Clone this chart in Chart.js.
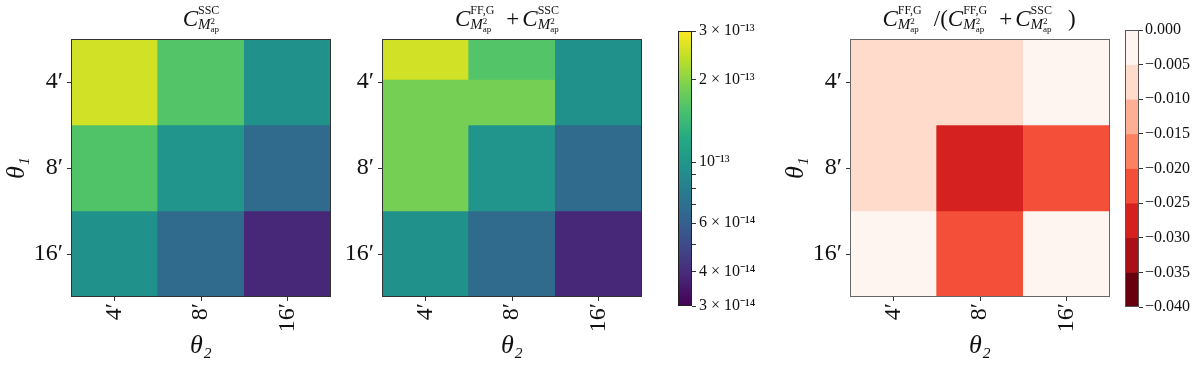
<!DOCTYPE html>
<html>
<head>
<meta charset="utf-8">
<script src="https://cdn.jsdelivr.net/npm/chart.js@4/dist/chart.umd.min.js"></script>
<style>
  body { margin: 0; background: #fff; }
  #wrap { position: relative; width: 1200px; height: 368px; overflow: hidden; }
  canvas { position: absolute; top: 0; }
  .ttl { position: absolute; top: 3px; width: 400px; text-align: center; white-space: nowrap;
         font-family: 'Liberation Serif', serif; font-size: 23px; color: #111; line-height: 30px; }
  .C { font-style: italic; }
  .scr { display: inline-flex; flex-direction: column; vertical-align: 12px; text-align: left; }
  .up { font-size: 12px; line-height: 14px; }
  .dn { font-size: 15px; line-height: 14px; white-space: nowrap; }
  .dn i { font-style: italic; }
  .scr2 { display: inline-flex; flex-direction: column; vertical-align: 5px; font-size: 9px; line-height: 8px; }
  .sl { margin-left: 12px; }
  .pl { margin-left: 12px; margin-right: 3px; }
  .cl { margin-left: 16px; }
</style>
</head>
<body>
<div id="wrap">
  <canvas id="hm1" width="345" height="368" style="left:0px"></canvas>
  <canvas id="hm2" width="345" height="368" style="left:311px"></canvas>
  <canvas id="cb1" width="100" height="368" style="left:678px"></canvas>
  <canvas id="hm3" width="345" height="368" style="left:779px"></canvas>
  <canvas id="cb3" width="75" height="368" style="left:1125px"></canvas>
  <div class="ttl" id="t1" style="left:1px"></div>
  <div class="ttl" id="t2" style="left:307px"></div>
  <div class="ttl" id="t3" style="left:779px"></div>
</div>
<script>
// ---- donnees ----
const rowLabels = ['4′', '8′', '16′'];   // theta_1 (lignes, de haut en bas)
const colLabels = ['4′', '8′', '16′'];   // theta_2 (colonnes)

// C_SSC
const sscRow4 = [2.55e-13, 1.60e-13, 9.5e-14];
const sscRow8 = [1.58e-13, 9.9e-14, 6.7e-14];
const sscRow16 = [9.5e-14, 6.6e-14, 3.86e-14];

// C_FF,G + C_SSC
const sumRow4 = [1.85e-13, 1.85e-13, 9.5e-14];
const sumRow8 = [1.85e-13, 9.9e-14, 6.7e-14];
const sumRow16 = [9.5e-14, 6.6e-14, 3.86e-14];
const sumTopStrip = [2.55e-13, 1.60e-13, 9.5e-14];  // bande du haut visible sur la 1re ligne

// C_FF,G / (C_FF,G + C_SSC)
const ratioRow4 = [-0.007, -0.007, -0.002];
const ratioRow8 = [-0.007, -0.027, -0.022];
const ratioRow16 = [-0.001, -0.022, -0.001];

// barres de couleur
const logTicks = [3e-14, 4e-14, 5e-14, 6e-14, 7e-14, 8e-14, 9e-14, 1e-13, 2e-13, 3e-13];
const logTickLabels = ['3 × 10⁻¹⁴', '4 × 10⁻¹⁴', '', '6 × 10⁻¹⁴', '', '', '', '10⁻¹³', '2 × 10⁻¹³', '3 × 10⁻¹³'];
const ratioLevels = [0, -0.005, -0.010, -0.015, -0.020, -0.025, -0.030, -0.035, -0.040];

const stripDepth = 0.47;   // hauteur de la bande (en fraction de ligne)
const SERIF = "'Liberation Serif', serif";

// ---- palettes ----
const viridisStops = ['#440154', '#482475', '#414487', '#355f8d', '#2a788e', '#21918c',
                      '#22a884', '#44bf70', '#7ad151', '#bddf26', '#fde725'];
const redsStops = ['#fff5f0', '#fee0d2', '#fcbba1', '#fc9272', '#fb6a4a', '#ef3b2c', '#cb181d', '#a50f15', '#67000d'];

function hexToRgb(h) { return [1, 3, 5].map(i => parseInt(h.slice(i, i + 2), 16)); }
function sample(stops, t) {
  t = Math.min(1, Math.max(0, t));
  const f = t * (stops.length - 1), i = Math.min(stops.length - 2, Math.floor(f)), u = f - i;
  const a = hexToRgb(stops[i]), b = hexToRgb(stops[i + 1]);
  return 'rgb(' + a.map((v, k) => Math.round(v + (b[k] - v) * u)).join(',') + ')';
}
const logMin = 3e-14, logMax = 3e-13;
function viridisColor(v) { return sample(viridisStops, Math.log10(v / logMin) / Math.log10(logMax / logMin)); }
const nBins = ratioLevels.length - 1;
function binColor(i) { return sample(redsStops, i / (nBins - 1)); }
function ratioColor(v) {
  const i = Math.floor(-v / 0.005);
  return binColor(Math.max(0, Math.min(nBins - 1, i)));
}

// ---- cadre autour de la zone de trace ----
const framePlugin = {
  id: 'frame',
  afterDraw(chart, args, o) {
    const { ctx, chartArea: a } = chart;
    ctx.save();
    ctx.strokeStyle = o.color || '#333';
    ctx.lineWidth = 1;
    ctx.strokeRect(a.left + 0.5, a.top + 0.5, a.width - 1, a.height - 1);
    ctx.restore();
  }
};

// Creer une carte de chaleur 3x3 (barres flottantes)
function createHeatmap(canvasId, rows, colorFn, opts) {
  const datasets = rows.map((vals, r) => ({
    data: colLabels.map(() => [r, r + 1]),
    backgroundColor: vals.map(colorFn),
    grouped: false, barPercentage: 1, categoryPercentage: 1, borderWidth: 0
  }));
  // le premier jeu est dessine en dernier : la bande passe au-dessus
  if (opts.strip) {
    datasets.unshift({
      data: colLabels.map(() => [0, stripDepth]),
      backgroundColor: opts.strip.map(colorFn),
      grouped: false, barPercentage: 1, categoryPercentage: 1, borderWidth: 0
    });
  }
  return new Chart(document.getElementById(canvasId), {
    type: 'bar',
    data: { labels: colLabels, datasets },
    plugins: [framePlugin],
    options: {
      responsive: false, animation: false, devicePixelRatio: 1,
      layout: { padding: { left: 0, right: 14, top: 39, bottom: 0 } },
      plugins: { legend: { display: false }, tooltip: { enabled: false }, frame: { color: opts.frame } },
      scales: {
        x: {
          type: 'category', offset: true,
          grid: { offset: false, drawOnChartArea: false, tickLength: 4, color: '#333' },
          border: { display: false },
          ticks: { autoSkip: false, minRotation: 90, maxRotation: 90, padding: 2, color: '#111',
                   font: { family: SERIF, size: 24 } },
          title: { display: true, text: 'θ₂', color: '#111', padding: { top: 0, bottom: 6 },
                   font: { family: SERIF, size: 26, style: 'italic' } },
          afterFit: s => { s.height = 71; }
        },
        y: {
          type: 'linear', min: 0, max: 3, reverse: true,
          afterBuildTicks: s => { s.ticks = rowLabels.map((_, i) => ({ value: i + 0.5 })); },
          grid: { drawOnChartArea: false, tickLength: 4, color: '#333' },
          border: { display: false },
          ticks: { autoSkip: false, padding: 4, color: '#111', font: { family: SERIF, size: 24 },
                   callback: (v, i) => rowLabels[i] },
          title: { display: opts.yTitle, text: 'θ₁', color: '#111', padding: { top: 2, bottom: 0 },
                   font: { family: SERIF, size: 26, style: 'italic' } },
          afterFit: s => { s.width = 71; }
        }
      }
    }
  });
}

createHeatmap('hm1', [sscRow4, sscRow8, sscRow16], viridisColor, { yTitle: true, frame: '#333' });
createHeatmap('hm2', [sumRow4, sumRow8, sumRow16], viridisColor, { yTitle: false, frame: '#333', strip: sumTopStrip });
createHeatmap('hm3', [ratioRow4, ratioRow8, ratioRow16], ratioColor, { yTitle: true, frame: '#666' });

// Barre de couleur log (viridis)
new Chart(document.getElementById('cb1'), {
  type: 'bar',
  data: { labels: [''], datasets: [{
    data: [[logMin, logMax]], barPercentage: 1, categoryPercentage: 1, borderWidth: 0,
    backgroundColor: c => {
      const a = c.chart.chartArea;
      if (!a) return viridisStops[5];
      const g = c.chart.ctx.createLinearGradient(0, a.bottom, 0, a.top);
      viridisStops.forEach((col, i) => g.addColorStop(i / (viridisStops.length - 1), col));
      return g;
    }
  }] },
  plugins: [framePlugin],
  options: {
    responsive: false, animation: false, devicePixelRatio: 1,
    layout: { padding: { left: 0, right: 0, top: 31, bottom: 62 } },
    plugins: { legend: { display: false }, tooltip: { enabled: false }, frame: { color: '#222' } },
    scales: {
      x: { display: false },
      y: {
        type: 'logarithmic', position: 'right', min: logMin, max: logMax,
        afterBuildTicks: s => { s.ticks = logTicks.map(v => ({ value: v })); },
        grid: { drawOnChartArea: false, tickLength: 4, color: '#333' },
        border: { display: false },
        ticks: { autoSkip: false, padding: 3, color: '#111', font: { family: SERIF, size: 16 },
                 callback: (v, i) => logTickLabels[i] },
        afterFit: s => { s.width = 86; }
      }
    }
  }
});

// Barre de couleur discrete (Reds)
new Chart(document.getElementById('cb3'), {
  type: 'bar',
  data: { labels: [''], datasets: ratioLevels.slice(0, -1).map((lv, i) => ({
    data: [[ratioLevels[i + 1], lv]], backgroundColor: binColor(i),
    grouped: false, barPercentage: 1, categoryPercentage: 1, borderWidth: 0
  })) },
  plugins: [framePlugin],
  options: {
    responsive: false, animation: false, devicePixelRatio: 1,
    layout: { padding: { left: 0, right: 0, top: 30, bottom: 61 } },
    plugins: { legend: { display: false }, tooltip: { enabled: false }, frame: { color: '#555' } },
    scales: {
      x: { display: false },
      y: {
        type: 'linear', position: 'right', min: ratioLevels[ratioLevels.length - 1], max: 0,
        afterBuildTicks: s => { s.ticks = ratioLevels.map(v => ({ value: v })); },
        grid: { drawOnChartArea: false, tickLength: 4, color: '#333' },
        border: { display: false },
        ticks: { autoSkip: false, padding: 2, color: '#111', font: { family: SERIF, size: 16 },
                 callback: (v, i) => (ratioLevels[i] < 0 ? '−' : '') + Math.abs(ratioLevels[i]).toFixed(3) },
        afterFit: s => { s.width = 61; }
      }
    }
  }
});

// ---- titres (notation C^{X}_{M^2_ap}) ----
function cTerm(sup) {
  return '<span class="C">C</span><span class="scr"><span class="up">' + sup + '</span>' +
    '<span class="dn"><i>M</i><span class="scr2"><span>2</span><span>ap</span></span></span></span>';
}
document.getElementById('t1').innerHTML = cTerm('SSC');
document.getElementById('t2').innerHTML = cTerm('FF,G') + '<span class="pl">+</span>' + cTerm('SSC');
document.getElementById('t3').innerHTML = cTerm('FF,G') + '<span class="sl">/(</span>' + cTerm('FF,G') +
  '<span class="pl">+</span>' + cTerm('SSC') + '<span class="cl">)</span>';
</script>
</body>
</html>
